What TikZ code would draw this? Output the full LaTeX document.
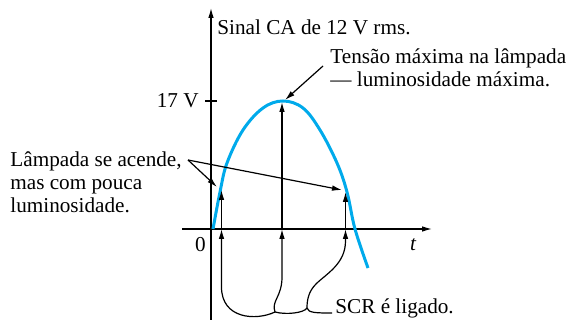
\documentclass[tikz,border=0pt]{standalone}
\usepackage{fontspec}
\setmainfont{LiberationSerif}[Extension=.ttf,UprightFont=*-Regular,ItalicFont=*-Italic,BoldFont=*-Bold]
\usetikzlibrary{arrows.meta}
\definecolor{acblue}{RGB}{0,170,235}

\begin{document}
\begin{tikzpicture}[x=.5pt,y=.5pt,
  lbl/.style={inner sep=0pt,font=\rmfamily\fontsize{10.6}{11.6}\selectfont},
  arr/.style={line width=.6pt,-{Latex[length=5pt,width=2.8pt]}},
  wire/.style={line width=.6pt},
  wave/.style={acblue,line width=1.5pt}]
\path[use as bounding box] (-211,-91) rectangle (360,229);
% axes
\draw[arr] (-29,0) -- (221,0);
\draw[arr] (0,-91) -- (0,221);
\draw[wire] (-6,128) -- (6,128);
\node[lbl,anchor=east] (vmax) at (-12,128) {17 V};
\node[lbl] (zero) at (-10.5,-15.5) {0};
\node[lbl] (tlbl) at (202,-16) {\itshape t};
\node[lbl,anchor=west] (sinal) at (6,202) {Sinal CA de 12 V rms.};
% ac wave
\draw[wave] plot[smooth,tension=.6] coordinates {(2,0) (9,37) (16,66) (32,99) (52,121) (72,128) (92,121) (109,99) (126,66) (136,37) (144,0) (157,-39)};
% firing points
\coordinate (b1) at (10.5,0);
\coordinate (b2) at (71,0);
\coordinate (b3) at (134.5,0);
\coordinate (c1) at (10.5,39);
\coordinate (c2) at (71,127);
\coordinate (c3) at (134.5,37);
\draw[arr] (b1) -- (c1);
\draw[arr] (b2) -- (c2);
\draw[arr] (b3) -- (c3);
% labels with pointers
\node[lbl,anchor=north west,align=left] (tensao) at (119,181) {Tensão máxima na lâmpada\\— luminosidade máxima.};
\coordinate (tp) at (112,163);
\coordinate (pk) at (74,129);
\draw[arr] (tp) -- (pk);
\node[lbl,anchor=north west,align=left] (lamp) at (-201,78) {Lâmpada se acende,\\mas com pouca\\luminosidade.};
\coordinate (lp) at (-23,69);
\coordinate (p1) at (6,42);
\coordinate (p3) at (131,39);
\draw[arr] (lp) -- (p1);
\draw[arr] (lp) -- (p3);
% SCR trigger
\node[lbl,anchor=base west,inner sep=1.5pt] (scr) at (121,-84) {SCR é ligado.};
\coordinate (j1) at (96,-79);
\coordinate (j2) at (64,-83);
\draw[wire] (scr.base west) .. controls (106,-84) and (97,-84) .. (j1);
\draw[wire] (j1) .. controls (93,-84) and (75,-86) .. (j2);
\draw[arr] (j1) .. controls (96,-70) and (98,-62) .. (105,-55) .. controls (115,-45) and (134.5,-35) .. (134.5,-12) -- (b3);
\draw[arr] (j2) .. controls (60,-72) and (71,-68) .. (71,-48) -- (b2);
\draw[arr] (j2) .. controls (45,-92) and (10.5,-90) .. (10.5,-58) -- (b1);
\end{tikzpicture}
\end{document}
